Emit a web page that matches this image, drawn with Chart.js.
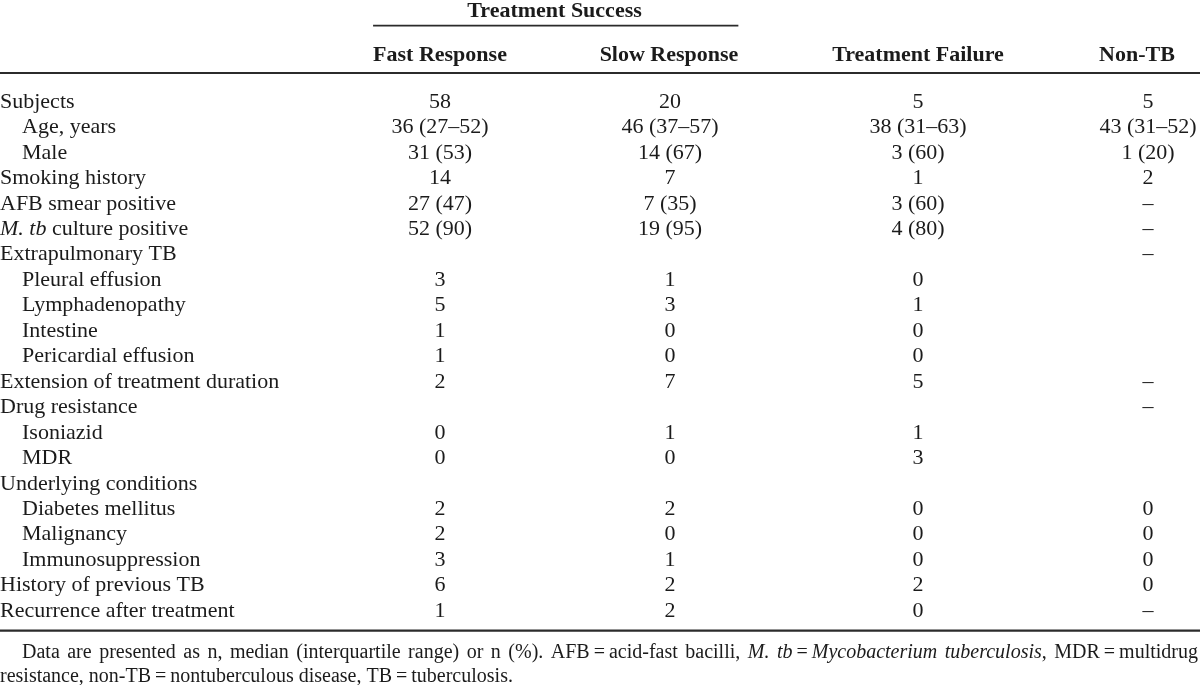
<!DOCTYPE html>
<html>
<head>
<meta charset="utf-8">
<script src="https://cdn.jsdelivr.net/npm/chart.js@4.4.1/dist/chart.umd.min.js"></script>
<style>
  html, body { margin: 0; padding: 0; background: #fff; }
  #wrap { width: 1200px; height: 685px; }
</style>
</head>
<body>
<div id="wrap"><canvas id="tableChart" width="1200" height="685"></canvas></div>
<script>
// table content
const rowLabels = [
  'Subjects', 'Age, years', 'Male', 'Smoking history', 'AFB smear positive',
  '*M. tb* culture positive', 'Extrapulmonary TB', 'Pleural effusion', 'Lymphadenopathy',
  'Intestine', 'Pericardial effusion', 'Extension of treatment duration', 'Drug resistance',
  'Isoniazid', 'MDR', 'Underlying conditions', 'Diabetes mellitus', 'Malignancy',
  'Immunosuppression', 'History of previous TB', 'Recurrence after treatment',
]
const rowIndent = [0, 1, 1, 0, 0, 0, 0, 1, 1, 1, 1, 0, 0, 1, 1, 0, 1, 1, 1, 0, 0]

const columnHeaders = ['Fast Response', 'Slow Response', 'Treatment Failure', 'Non-TB']
const spannerHeader = 'Treatment Success'

const fastResponse = ['58', '36 (27–52)', '31 (53)', '14', '27 (47)', '52 (90)', '', '3', '5', '1', '1', '2', '', '0', '0', '', '2', '2', '3', '6', '1']
const slowResponse = ['20', '46 (37–57)', '14 (67)', '7', '7 (35)', '19 (95)', '', '1', '3', '0', '0', '7', '', '1', '0', '', '2', '0', '1', '2', '2']
const treatmentFailure = ['5', '38 (31–63)', '3 (60)', '1', '3 (60)', '4 (80)', '', '0', '1', '0', '0', '5', '', '1', '3', '', '0', '0', '0', '2', '0']
const nonTB = ['5', '43 (31–52)', '1 (20)', '2', '–', '–', '–', '', '', '', '', '–', '–', '', '', '', '0', '0', '0', '0', '–']

const footnoteLines = [
  'Data are presented as n, median (interquartile range) or n (%). AFB\u2009=\u2009acid-fast bacilli, *M. tb*\u2009=\u2009*Mycobacterium tuberculosis*, MDR\u2009=\u2009multidrug',
  'resistance, non-TB\u2009=\u2009nontuberculous disease, TB\u2009=\u2009tuberculosis.',
]

// layout (pixels on the x scale, row units on the y scale)
const columnX = [440, 670, 918, 1148]
const headerX = [440, 669, 918, 1137]
const FONT = '"Liberation Serif", "Times New Roman", serif'
const BODY_SIZE = 22
const HEAD_SIZE = 22
const NOTE_SIZE = 20
const INK = '#1b1b1b'

const columns = [fastResponse, slowResponse, treatmentFailure, nonTB]

function font(size, italic, bold) {
  return (italic ? 'italic ' : '') + (bold ? 'bold ' : '') + size + 'px ' + FONT
}

// split "*italic* text" into words made of runs
function parseWords(text) {
  const words = []
  let runs = []
  let cur = ''
  let it = false
  const flush = () => {
    if (cur) {
      runs.push({ t: cur, it })
      cur = ''
    }
  }
  for (const ch of text) {
    if (ch === '*') {
      flush()
      it = !it
    } else if (ch === ' ') {
      flush()
      if (runs.length) words.push(runs)
      runs = []
    } else {
      cur += ch
    }
  }
  flush()
  if (runs.length) words.push(runs)
  return words
}

function wordWidth(ctx, runs, size, bold) {
  let w = 0
  runs.forEach((r) => {
    ctx.font = font(size, r.it, bold)
    w += ctx.measureText(r.t).width
  })
  return w
}

function drawRich(ctx, text, x, y, opts) {
  const { size, bold = false, align = 'left', justifyTo = null } = opts
  const words = parseWords(text)
  const widths = words.map((w) => wordWidth(ctx, w, size, bold))
  const sum = widths.reduce((a, b) => a + b, 0)
  ctx.font = font(size, false, bold)
  let gap = ctx.measureText(' ').width
  if (justifyTo !== null && words.length > 1) gap = (justifyTo - x - sum) / (words.length - 1)
  const total = sum + gap * (words.length - 1)
  let cx = x
  if (align === 'center') cx = x - total / 2
  if (align === 'right') cx = x - total
  ctx.textBaseline = 'middle'
  ctx.textAlign = 'left'
  words.forEach((runs, i) => {
    runs.forEach((r) => {
      ctx.font = font(size, r.it, bold)
      ctx.fillText(r.t, cx, y)
      cx += ctx.measureText(r.t).width
    })
    if (i < words.length - 1) cx += gap
  })
  return { left: x - (align === 'center' ? total / 2 : align === 'right' ? total : 0), width: total }
}

function hline(ctx, x1, x2, y, w) {
  ctx.save()
  ctx.strokeStyle = '#2b2b2b'
  ctx.lineWidth = w
  ctx.beginPath()
  ctx.moveTo(x1, y)
  ctx.lineTo(x2, y)
  ctx.stroke()
  ctx.restore()
}

const tablePlugin = {
  id: 'tablePlugin',
  afterDatasetsDraw(chart) {
    const ctx = chart.ctx
    const xs = chart.scales.x
    const ys = chart.scales.y
    ctx.save()
    ctx.fillStyle = INK

    // headers
    const spanRow = ys.getPixelForValue(-3.55)
    const headRow = ys.getPixelForValue(-1.82)
    const boxes = columnHeaders.map((h, i) =>
      drawRich(ctx, h, xs.getPixelForValue(headerX[i]), headRow, { size: HEAD_SIZE, bold: true, align: 'center' }),
    )
    drawRich(ctx, spannerHeader, (xs.getPixelForValue(headerX[0]) + xs.getPixelForValue(headerX[1])) / 2, spanRow, {
      size: HEAD_SIZE,
      bold: true,
      align: 'center',
    })
    hline(ctx, boxes[0].left, boxes[1].left + boxes[1].width, ys.getPixelForValue(-3.0), 1.6)
    hline(ctx, xs.left, xs.right, ys.getPixelForValue(-1.14), 2)

    // row labels
    rowLabels.forEach((lab, i) => {
      drawRich(ctx, lab, xs.getPixelForValue(0) + rowIndent[i] * 22, ys.getPixelForValue(i), { size: BODY_SIZE })
    })

    // cells, placed at each point element
    chart.data.datasets.forEach((ds, di) => {
      const meta = chart.getDatasetMeta(di)
      meta.data.forEach((pt, j) => {
        drawRich(ctx, ds.data[j].label, pt.x, pt.y, { size: BODY_SIZE, align: 'center' })
      })
    })

    // bottom rule and footnote
    hline(ctx, xs.left, xs.right, ys.getPixelForValue(20.77), 2.4)
    drawRich(ctx, footnoteLines[0], xs.getPixelForValue(22), ys.getPixelForValue(21.66), {
      size: NOTE_SIZE,
      justifyTo: xs.getPixelForValue(1198),
    })
    drawRich(ctx, footnoteLines[1], xs.getPixelForValue(0), ys.getPixelForValue(22.6), { size: NOTE_SIZE })
    ctx.restore()
  },
}

const datasets = columns.map((col, c) => ({
  label: columnHeaders[c],
  data: col
    .map((v, i) => ({ x: columnX[c], y: i, label: v }))
    .filter((d) => d.label !== ''),
  pointRadius: 0,
  showLine: false,
}))

new Chart(document.getElementById('tableChart'), {
  type: 'scatter',
  data: { datasets },
  options: {
    responsive: false,
    animation: false,
    events: [],
    layout: { padding: { top: 102, bottom: 685 - 611, left: 0, right: 0 } },
    scales: {
      x: { type: 'linear', min: 0, max: 1200, display: false },
      y: { type: 'linear', min: 0, max: 20, reverse: true, display: false },
    },
    plugins: { legend: { display: false }, tooltip: { enabled: false } },
  },
  plugins: [tablePlugin],
})
</script>
</body>
</html>
